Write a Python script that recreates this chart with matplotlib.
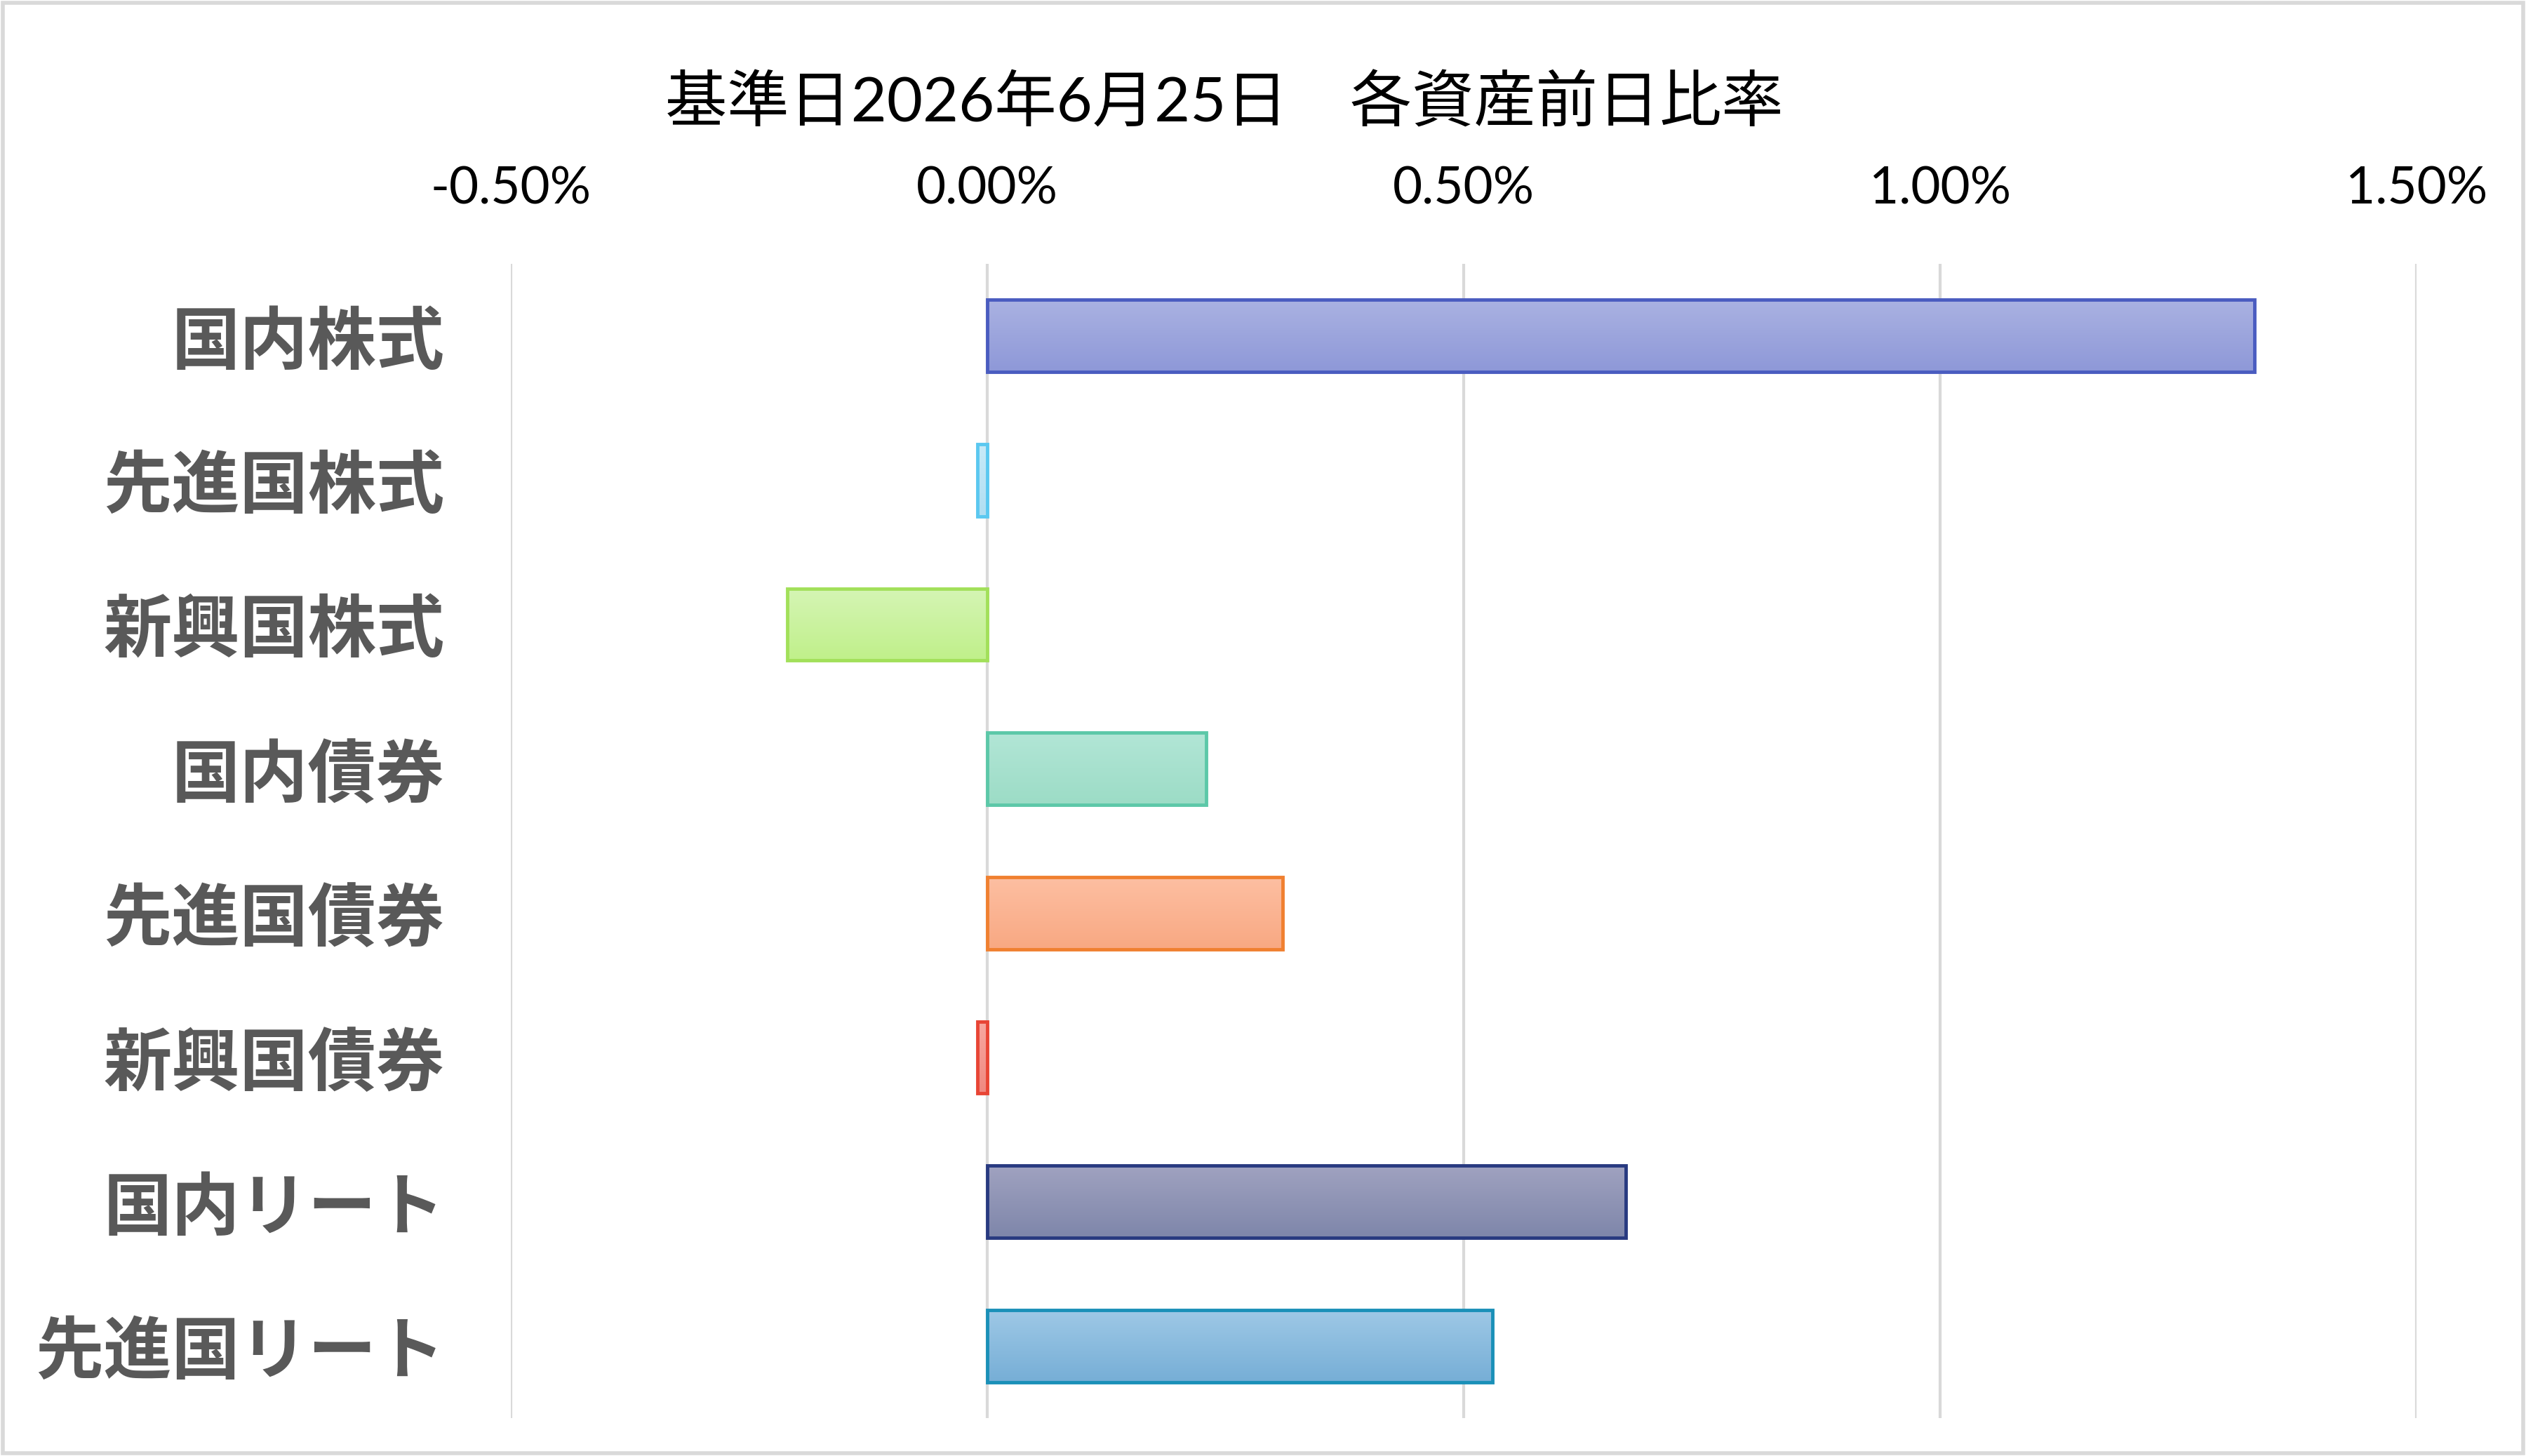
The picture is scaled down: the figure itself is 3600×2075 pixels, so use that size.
import numpy as np
import matplotlib
matplotlib.use('Agg')
import matplotlib.pyplot as plt
from matplotlib.colors import LinearSegmentedColormap
from matplotlib.patches import Rectangle

plt.rcParams['font.family'] = ['Lato', 'Noto Sans CJK JP', 'DejaVu Sans']

# データ (前日比率, %)
categories = ['国内株式', '先進国株式', '新興国株式', '国内債券',
              '先進国債券', '新興国債券', '国内リート', '先進国リート']
values = [1.33, -0.01, -0.21, 0.23, 0.31, -0.01, 0.67, 0.53]
ticks = [-0.5, 0.0, 0.5, 1.0, 1.5]
tick_labels = ['-0.50%', '0.00%', '0.50%', '1.00%', '1.50%']
title = '基準日2026年6月25日\u3000各資産前日比率'

edge_colors = ['#4A5CC0', '#5BC8F0', '#A2E05A', '#5CC8A8',
               '#F08030', '#E84535', '#283A80', '#1A90B8']
top_colors = ['#AAB2E2', '#C8EAF8', '#D5F5B5', '#B2E6D6',
              '#FDBFA2', '#F8A8A0', '#A0A2C0', '#9EC8E6']
bottom_colors = ['#8E98D8', '#B0DEF2', '#C0F08A', '#9CDCC6',
                 '#F8A882', '#F08880', '#7E86AA', '#76AED6']

fig = plt.figure(figsize=(36, 20.75), dpi=100)
ax = fig.add_axes([0.2022, 0.026, 0.7545, 0.7928])

ypos = np.arange(len(categories))
bars = ax.barh(ypos, values, height=0.5, facecolor='none',
               edgecolor=edge_colors, linewidth=3.5, zorder=3)

# グラデーション塗り
grad = np.linspace(0, 1, 256).reshape(-1, 1)
for i, b in enumerate(bars):
    cmap = LinearSegmentedColormap.from_list('g%d' % i, [top_colors[i], bottom_colors[i]])
    x0, y0 = b.get_x(), b.get_y()
    w, h = b.get_width(), b.get_height()
    im = ax.imshow(grad, cmap=cmap, aspect='auto', zorder=2,
                   extent=[x0, x0 + w, y0 + h, y0], origin='upper')
    im.set_clip_path(b)

ax.set_xlim(-0.5, 1.5)
ax.set_ylim(len(categories) - 0.5, -0.5)
ax.set_xticks(ticks)
ax.set_xticklabels(tick_labels)
ax.set_yticks(ypos)
ax.set_yticklabels(categories, fontsize=70, fontweight='bold', color='#595959',
                   family=['Noto Sans CJK JP'])
ax.xaxis.tick_top()
ax.tick_params(axis='x', length=0, pad=52, labelsize=52.5, labelcolor='black')
ax.tick_params(axis='y', length=0, pad=68)
ax.grid(axis='x', color='#D9D9D9', linewidth=3)
ax.set_axisbelow(True)
for s in ax.spines.values():
    s.set_visible(False)

fig.text(0.4847, 0.929, title, ha='center', va='center', fontsize=63.5, color='black')

# 外枠
fig.patches.append(Rectangle((0.001, 0.002), 0.998, 0.996, transform=fig.transFigure,
                             fill=False, edgecolor='#D9D9D9', linewidth=4))

fig.savefig('out.png', dpi=100, facecolor='white')
